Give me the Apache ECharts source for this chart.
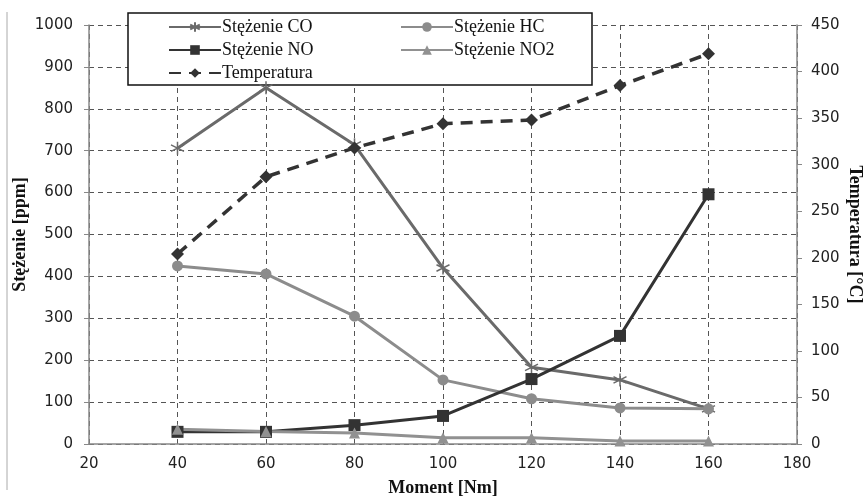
<!DOCTYPE html>
<html>
<head>
<meta charset="utf-8">
<script src="https://cdn.jsdelivr.net/npm/echarts@6/dist/echarts.min.js"></script>
<style>
  html, body { margin: 0; padding: 0; background: #fff; }
  #chart { width: 867px; height: 496px; }
</style>
</head>
<body>
<div id="chart"></div>
<script>
const moment = [40, 60, 80, 100, 120, 140, 160]
const co = [706, 850, 714, 420, 183, 153, 84]
const hc = [425, 406, 305, 153, 108, 86, 84]
const no = [29, 29, 45, 67, 155, 258, 596]
const no2 = [35, 30, 26, 15, 15, 7, 7]
const temperatura = [204, 287, 318, 344, 348, 385, 419]

const pairs = (ys) => moment.map((x, i) => [x, ys[i]])

const chart = echarts.init(document.getElementById('chart'))
const serif = 'Liberation Serif'
const sans = 'DejaVu Sans'
const asterisk = 'path://M5,0L5,10M0.7,2.5L9.3,7.5M0.7,7.5L9.3,2.5'
const legendText = { fontFamily: serif, fontSize: 18, color: '#111', padding: [0, 0, 0, -4] }
const titleText = { fontFamily: serif, fontSize: 18, fontWeight: 'bold', color: '#111' }
const tickText = { fontFamily: sans, fontSize: 15, color: '#222' }

let options = {
  animation: false,
  grid: { left: 89, right: 70, top: 25, bottom: 52, outerBoundsMode: 'none', containLabel: false },
  legend: [
    {
      data: ['Stężenie CO', 'Stężenie NO', 'Temperatura'],
      orient: 'vertical',
      left: 163, top: 13,
      itemWidth: 52, itemHeight: 12, itemGap: 5,
      textStyle: legendText,
    },
    {
      data: ['Stężenie HC', 'Stężenie NO2'],
      orient: 'vertical',
      left: 395, top: 13,
      itemWidth: 52, itemHeight: 12, itemGap: 5,
      textStyle: legendText,
    },
  ],
  graphic: [
    {
      type: 'rect',
      shape: { x: 128, y: 13, width: 464, height: 72 },
      style: { fill: '#fff', stroke: '#111', lineWidth: 1.5 },
      z: 3,
    },
    {
      type: 'line',
      shape: { x1: 7, y1: 12, x2: 7, y2: 490 },
      style: { stroke: '#aaa', lineWidth: 1 },
    },
  ],
  xAxis: {
    type: 'value',
    min: 20, max: 180, interval: 20,
    name: 'Moment [Nm]',
    nameLocation: 'middle', nameGap: 35, nameMoveOverlap: false,
    nameTextStyle: titleText,
    axisLine: { show: true, lineStyle: { color: '#888', width: 1.5 } },
    axisTick: { show: false },
    axisLabel: Object.assign({ margin: 13 }, tickText),
    splitLine: { show: true, lineStyle: { color: '#555', type: [5, 4], width: 1 } },
  },
  yAxis: [
    {
      type: 'value',
      min: 0, max: 1000, interval: 100,
      name: 'Stężenie [ppm]',
      nameLocation: 'middle', nameGap: 60, nameRotate: 90, nameMoveOverlap: false,
      nameTextStyle: titleText,
      axisLine: { show: true, lineStyle: { color: '#888', width: 1.5 } },
      axisTick: { show: true, length: 5, lineStyle: { color: '#888' } },
      axisLabel: Object.assign({ margin: 16, formatter: (v) => String(v) }, tickText),
      splitLine: { show: true, lineStyle: { color: '#555', type: [5, 4], width: 1 } },
    },
    {
      type: 'value',
      min: 0, max: 450, interval: 50,
      position: 'right',
      name: 'Temperatura [°C]',
      nameLocation: 'middle', nameGap: 49, nameRotate: -90, nameMoveOverlap: false,
      nameTextStyle: titleText,
      axisLine: { show: true, lineStyle: { color: '#888', width: 1.5 } },
      axisTick: { show: true, length: 5, lineStyle: { color: '#888' } },
      axisLabel: Object.assign({ margin: 14 }, tickText),
      splitLine: { show: false },
    },
  ],
  series: [
    {
      name: 'Stężenie CO', type: 'line', data: pairs(co),
      symbol: asterisk, symbolSize: 13,
      lineStyle: { color: '#6a6a6a', width: 3 },
      itemStyle: { color: 'rgba(0,0,0,0)', borderColor: '#6a6a6a', borderWidth: 1.5 },
    },
    {
      name: 'Stężenie HC', type: 'line', data: pairs(hc),
      symbol: 'circle', symbolSize: 11,
      lineStyle: { color: '#8c8c8c', width: 3 },
      itemStyle: { color: '#8c8c8c' },
    },
    {
      name: 'Stężenie NO', type: 'line', data: pairs(no),
      symbol: 'rect', symbolSize: 12,
      lineStyle: { color: '#333', width: 3 },
      itemStyle: { color: '#333' },
    },
    {
      name: 'Stężenie NO2', type: 'line', data: pairs(no2),
      symbol: 'triangle', symbolSize: 11,
      lineStyle: { color: '#919191', width: 3 },
      itemStyle: { color: '#919191' },
    },
    {
      name: 'Temperatura', type: 'line', yAxisIndex: 1, data: pairs(temperatura),
      symbol: 'diamond', symbolSize: 13,
      lineStyle: { color: '#333', width: 3.5, type: [12, 8] },
      itemStyle: { color: '#333' },
    },
  ],
}
chart.setOption(options)
</script>
</body>
</html>
